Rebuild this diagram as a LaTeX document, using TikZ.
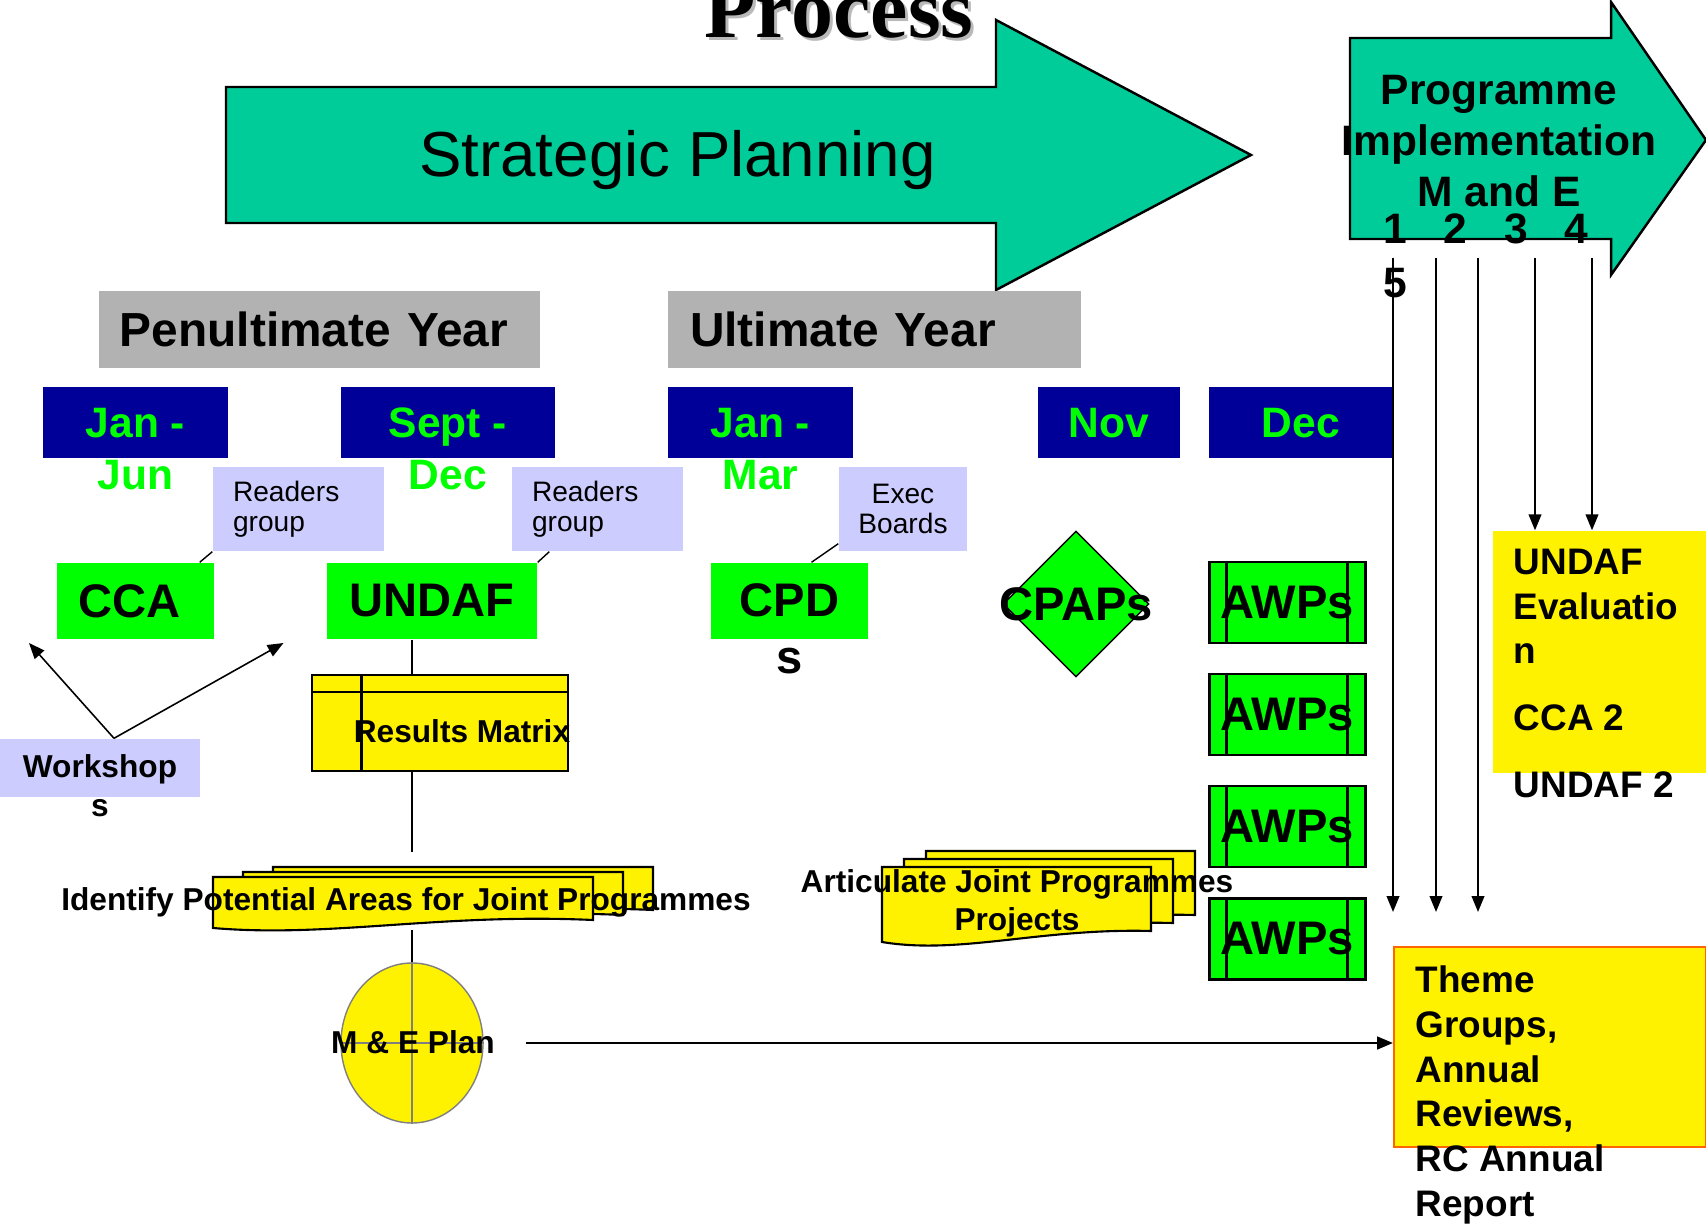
\documentclass[tikz,border=0pt]{standalone}
\usepackage{fontspec}
\setmainfont{Liberation Sans}
\newfontfamily\procfont{Liberation Serif}
\usetikzlibrary{positioning,shapes.geometric,arrows.meta,calc}
\newlength{\px}
\setlength{\px}{0.01cm}
\definecolor{spteal}{RGB}{0,204,153}
\definecolor{yeargray}{RGB}{178,178,178}
\definecolor{monthblue}{RGB}{0,0,153}
\definecolor{monthgreen}{RGB}{0,255,0}
\definecolor{boxgreen}{RGB}{0,255,0}
\definecolor{lavender}{RGB}{204,204,255}
\definecolor{themeorange}{RGB}{255,102,0}
\begin{document}
\begin{tikzpicture}[x=0.01cm, y=-0.01cm,
    arrowbody/.style={draw=black, fill=spteal, line width=0.7pt},
    yearbox/.style={fill=yeargray, align=left, inner ysep=0pt, minimum height=77\px,
      font=\fontsize{13.6}{16}\selectfont\bfseries},
    monthbox/.style={fill=monthblue, minimum height=71\px, inner sep=0pt},
    monthtxt/.style={text=monthgreen, align=center, inner sep=0pt,
      font=\fontsize{12.1}{14.8}\selectfont\bfseries},
    readers/.style={fill=lavender, minimum height=84\px, inner ysep=0pt,
      font=\fontsize{8}{8.5}\selectfont},
    greentxt/.style={inner sep=0pt, font=\fontsize{13.4}{16.2}\selectfont\bfseries},
    greenbox/.style={greentxt, fill=boxgreen, minimum height=76\px},
    awp/.style={greenbox, draw=black, line width=0.85pt, minimum width=156\px, minimum height=81\px},
    yellowtxt/.style={inner sep=0pt, align=left, font=\fontsize{10.5}{12.7}\selectfont\bfseries},
    smallbold/.style={inner sep=0pt, font=\fontsize{9}{10.8}\selectfont\bfseries},
    docpage/.style={draw=black, fill=yellow, line width=0.6pt},
    conn/.style={line width=0.4pt},
    arr/.style={line width=0.45pt, -{Triangle[length=4.5pt, width=3.6pt]}}]
 \useasboundingbox (0,0) rectangle (1706,1225);
 \fill[white] (0,0) rectangle (1706,1225);

 % title
 \node[anchor=base, text=gray!55, font=\fontsize{23.9}{28}\procfont\bfseries] (titleshadow) at (842,41) {Process};
 \node[anchor=base, font=\fontsize{23.9}{28}\procfont\bfseries] (title) at (839,38) {Process};

 % the two phase arrows
 \draw[arrowbody] (226,87) -- (996,87) -- (996,20) -- (1251,155) -- (996,290) -- (996,223) -- (226,223) -- cycle;
 \node[anchor=base, font=\fontsize{18.1}{21.7}\selectfont] (strat) at (677.5,177) {Strategic Planning};
 \draw[arrowbody] (1350,38) -- (1611,38) -- (1611,2) -- (1706,140) -- (1611,275) -- (1611,239) -- (1350,239) -- cycle;
 \node[anchor=north, align=center, inner sep=0pt, font=\fontsize{12.1}{14.5}\selectfont\bfseries] (impl) at (1499,75)
   {Programme\\Implementation\\M and E};

 % years
 \node[yearbox, text width=399\px, inner xsep=21\px] (penult) at (319.5,329.5) {Penultimate Year};
 \node[yearbox, text width=369\px, inner xsep=22\px] (ult) at (874.5,329.5) {Ultimate Year};

 % months
 \node[monthbox, minimum width=185\px] (jan1) at (135.5,422.5) {};
 \node[monthbox, minimum width=214\px] (sept) at (448,422.5) {};
 \node[monthbox, minimum width=185\px] (jan2) at (760.5,422.5) {};
 \node[monthbox, minimum width=142\px] (nov) at (1109,422.5) {};
 \node[monthbox, minimum width=184\px] (dec) at (1301,422.5) {};
 \node[monthtxt, below=21\px of jan1.north] (jan1txt) {Jan -\\Jun};
 \node[monthtxt, below=21\px of sept.north] (septtxt) {Sept -\\Dec};
 \node[monthtxt, below=21\px of jan2.north] (jan2txt) {Jan -\\Mar};
 \node[monthtxt, below=21\px of nov.north] (novtxt) {Nov};
 \node[monthtxt, below=21\px of dec.north] (dectxt) {Dec};

 % readers and boards
 \node[readers, text width=131\px, inner xsep=20\px, align=left] (rg1) at (298.5,509) {Readers\\group};
 \node[readers, text width=131\px, inner xsep=20\px, align=left] (rg2) at (597.5,509) {Readers\\group};
 \node[readers, minimum width=128\px, align=center] (eb) at (903,509) {Exec\\Boards};

 % products
 \node[greenbox, text width=115\px, inner xsep=21\px, align=left] (cca) at (135.5,601) {CCA};
 \node[greenbox, minimum width=210\px] (undaf) at (432,601) {UNDAF};
 \node[greenbox, minimum width=157\px] (cpd) at (789.5,601) {};
 \node[greentxt, align=center, below=21\px of cpd.north] (cpdtxt) {CPD\\s};
 \node[diamond, draw=black, fill=boxgreen, line width=0.4pt, minimum width=146\px, minimum height=146\px,
   inner sep=0pt] (cpaps) at (1076,604) {};
 \node[greentxt] (cpapstxt) at (cpaps.center) {CPAPs};
 \foreach \i/\y in {1/602.5,2/714.5,3/826.5,4/939} {
   \node[awp] (awp\i) at (1287,\y) {AWPs};
   \draw[line width=0.6pt] ([xshift=19\px]awp\i.north west) -- ([xshift=19\px]awp\i.south west)
     ([xshift=-19\px]awp\i.north east) -- ([xshift=-19\px]awp\i.south east);
 }

 \draw[conn] (rg1.south west) -- ([xshift=-15\px]cca.north east);
 \draw[conn] ([xshift=38\px]rg2.south west) -- (undaf.north east);
 \draw[conn] ([yshift=8\px]eb.south west) -- ([xshift=22\px]cpd.north);

 % workshops
 \node[fill=lavender, minimum width=200\px, minimum height=58\px, inner sep=0pt] (ws) at (100,768) {};
 \node[smallbold, align=center, font=\fontsize{9}{11.1}\selectfont\bfseries, below=16\px of ws.north] (wstxt) {Workshop\\s};
 \coordinate (wl) at (29,643);
 \coordinate (wr) at (283.5,643);
 \draw[arr] ([xshift=14\px]ws.north) -- (wl);
 \draw[arr] ([xshift=14\px]ws.north) -- (wr);

 % results matrix
 \node[draw=black, fill=yellow, line width=0.7pt, minimum width=255.5\px, minimum height=96\px, inner sep=0pt] (rm) at (440,723) {};
 \draw[line width=0.7pt] ([yshift=-18\px]rm.north west) -- ([yshift=-18\px]rm.north east)
   ([xshift=50.5\px]rm.north west) -- ([xshift=50.5\px]rm.south west);
 \node[smallbold] (rmtxt) at (462,731) {Results Matrix};

 % joint programmes
 \foreach \s in {2,1,0}
   \draw[docpage] ({213+30*\s},{877-5*\s}) -- ({593+30*\s},{877-5*\s}) -- ({593+30*\s},{920-5*\s})
     .. controls ({440+30*\s},{913-5*\s}) and ({330+30*\s},{938-5*\s}) .. ({213+30*\s},{928-5*\s}) -- cycle;
 \node[smallbold, anchor=base] (ipa) at (406,910) {Identify Potential Areas for Joint Programmes};
 \foreach \s in {2,1,0}
   \draw[docpage] ({882+22*\s},{867-8*\s}) -- ({1151+22*\s},{867-8*\s}) -- ({1151+22*\s},{931-8*\s})
     .. controls ({1040+22*\s},{928-8*\s}) and ({960+22*\s},{955-8*\s}) .. ({882+22*\s},{942-8*\s}) -- cycle;
 \node[smallbold, align=center, anchor=north] (ajp) at (1017,869) {Articulate Joint Programmes\\Projects};

 % M and E
 \node[ellipse, draw=gray, fill=yellow, minimum width=142\px, minimum height=160\px, inner sep=0pt] (mep) at (412,1043) {};
 \draw[gray] (mep.north) -- (mep.south) (mep.west) -- (mep.east);
 \node[smallbold] (meptxt) at (413,1042) {M \& E Plan};

 \coordinate (ipatop) at (412,852);
 \coordinate (ipabot) at (412,930);
 \draw[conn] (undaf.south -| mep) -- (rm.north -| mep);
 \draw[conn] (rm.south -| mep) -- (ipatop);
 \draw[conn] (ipabot) -- (mep.north);

 % reviews
 \node[fill=yellow, minimum width=213\px, minimum height=242\px, inner sep=0pt] (eval) at (1599.5,652) {};
 \node[yellowtxt, anchor=north west] (evaltxt) at (1513,548.5) {UNDAF\\Evaluatio\\n\\[6.3pt]CCA 2\\[6.3pt]UNDAF 2};
 \node[draw=themeorange, fill=yellow, line width=0.6pt, minimum width=312\px, minimum height=200\px, inner sep=0pt] (theme) at (1550,1047) {};
 \node[yellowtxt, anchor=north west] (themetxt) at (1415,965.5) {Theme\\Groups,\\Annual\\Reviews,\\RC Annual\\Report};
 \draw[arr, line width=0.7pt] ([xshift=42\px]mep.east) -- (theme.west |- mep);

 \foreach \i/\x in {1/1393,2/1436,3/1478,4/1535,5/1592}
   \coordinate (top\i) at (\x,258);
 \foreach \i in {1,2,3}
   \draw[arr] (top\i) -- ($(top\i |- theme.north)+(0,-34)$);
 \foreach \i in {4,5}
   \draw[arr] (top\i) -- (top\i |- eval.north);
 \node[anchor=north west, align=left, inner sep=0pt, font=\fontsize{12.1}{15.4}\selectfont\bfseries] (years) at (1383,213)
   {1\hspace{10.4pt}2\hspace{10.4pt}3\hspace{10.4pt}4\\5};
\end{tikzpicture}
\end{document}
